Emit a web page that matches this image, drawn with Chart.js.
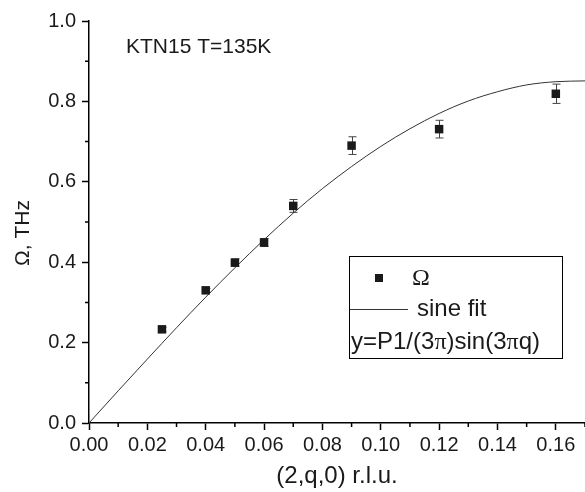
<!DOCTYPE html>
<html>
<head>
<meta charset="utf-8">
<script src="https://cdn.jsdelivr.net/npm/chart.js@4.4.0/dist/chart.umd.min.js"></script>
<style>
  html, body { margin: 0; padding: 0; background: #fff; }
  #wrap { width: 585px; height: 492px; }
</style>
</head>
<body>
<div id="wrap"><canvas id="grafico" width="585" height="492"></canvas></div>
<script>
// measured points (q in r.l.u., Omega in THz)
const qPontos = [0.025, 0.04, 0.05, 0.06, 0.07, 0.09, 0.12, 0.16];
const omegaPontos = [0.233, 0.330, 0.399, 0.449, 0.540, 0.690, 0.731, 0.819];
const erroPontos = [0.005, 0.005, 0.009, 0.010, 0.016, 0.022, 0.022, 0.024];

// sine fit curve
const qFit = [0, 0.01, 0.02, 0.03, 0.04, 0.05, 0.06, 0.07, 0.08, 0.09, 0.10, 0.11, 0.12, 0.13, 0.14, 0.15, 0.16, 0.17];
const omegaFit = [0, 0.080, 0.159, 0.237, 0.313, 0.386, 0.456, 0.522, 0.583, 0.638, 0.688, 0.732, 0.770, 0.801, 0.824, 0.841, 0.849, 0.851];

const xTicks = [0, 0.01, 0.02, 0.03, 0.04, 0.05, 0.06, 0.07, 0.08, 0.09, 0.10, 0.11, 0.12, 0.13, 0.14, 0.15, 0.16, 0.17];
const yTicks = [0, 0.1, 0.2, 0.3, 0.4, 0.5, 0.6, 0.7, 0.8, 0.9, 1.0];

const SANS = '"Liberation Sans", Arial, sans-serif';
const SERIF = '"Liberation Serif", "Times New Roman", serif';
const isMajorX = v => Math.round(v * 100) % 2 === 0;
const isMajorY = v => Math.round(v * 10) % 2 === 0;

const extras = {
  id: 'extras',
  beforeDatasetsDraw(chart) {
    const ctx = chart.ctx;
    const x = chart.scales.x, y = chart.scales.y;
    ctx.save();
    ctx.strokeStyle = '#444';
    ctx.lineWidth = 1;
    qPontos.forEach((q, i) => {
      const px = Math.round(x.getPixelForValue(q)) + 0.5;
      const top = y.getPixelForValue(omegaPontos[i] + erroPontos[i]);
      const bot = y.getPixelForValue(omegaPontos[i] - erroPontos[i]);
      ctx.beginPath();
      ctx.moveTo(px, top); ctx.lineTo(px, bot);
      ctx.moveTo(px - 4, top); ctx.lineTo(px + 4, top);
      ctx.moveTo(px - 4, bot); ctx.lineTo(px + 4, bot);
      ctx.stroke();
    });
    ctx.restore();
  },
  afterDraw(chart) {
    const ctx = chart.ctx;
    const x = chart.scales.x, y = chart.scales.y;
    const area = chart.chartArea;
    ctx.save();
    // minor ticks
    ctx.strokeStyle = '#000';
    ctx.lineWidth = 1.5;
    ctx.beginPath();
    xTicks.filter(v => !isMajorX(v)).forEach(v => {
      const px = x.getPixelForValue(v);
      ctx.moveTo(px, area.bottom); ctx.lineTo(px, area.bottom + 4);
    });
    yTicks.filter(v => !isMajorY(v)).forEach(v => {
      const py = y.getPixelForValue(v);
      ctx.moveTo(area.left, py); ctx.lineTo(area.left - 4, py);
    });
    ctx.stroke();

    ctx.fillStyle = '#1a1a1a';
    ctx.textBaseline = 'alphabetic';
    ctx.font = '21px ' + SANS;
    ctx.fillText('KTN15 T=135K', 126, 53);

    // y axis title
    ctx.save();
    ctx.translate(29, 233);
    ctx.rotate(-Math.PI / 2);
    ctx.textAlign = 'center';
    ctx.font = '21px ' + SANS;
    ctx.fillText('\u03A9, THz', 0, 0);
    ctx.restore();

    // legend box
    ctx.strokeStyle = '#000';
    ctx.lineWidth = 1;
    ctx.strokeRect(349.5, 256.5, 213, 102);
    ctx.fillRect(375, 274, 8, 8);
    ctx.font = '24px ' + SERIF;
    ctx.fillText('\u03A9', 412, 285);
    ctx.strokeStyle = '#333';
    ctx.beginPath();
    ctx.moveTo(350, 309.5); ctx.lineTo(408, 309.5);
    ctx.stroke();
    ctx.font = '24px ' + SANS;
    ctx.fillText('sine fit', 417, 316);

    const partes = [['y=P1/(3', SANS], ['\u03C0', SERIF], [')sin(3', SANS], ['\u03C0', SERIF], ['q)', SANS]];
    let cx = 351;
    partes.forEach(([t, f]) => {
      ctx.font = '24px ' + f;
      ctx.fillText(t, cx, 349);
      cx += ctx.measureText(t).width;
    });
    ctx.restore();
  }
};

new Chart(document.getElementById('grafico'), {
  type: 'scatter',
  data: {
    datasets: [
      {
        label: 'sine fit',
        data: qFit.map((q, i) => ({ x: q, y: omegaFit[i] })),
        showLine: true,
        borderColor: '#333',
        borderWidth: 1,
        pointRadius: 0,
        cubicInterpolationMode: 'monotone',
        order: 2
      },
      {
        label: '\u03A9',
        data: qPontos.map((q, i) => ({ x: q, y: omegaPontos[i] })),
        pointStyle: 'rect',
        pointRadius: 6,
        pointBorderWidth: 0,
        backgroundColor: '#1a1a1a',
        borderColor: '#1a1a1a',
        order: 1
      }
    ]
  },
  options: {
    responsive: false,
    animation: false,
    layout: { autoPadding: false, padding: { top: 21, right: 0, left: 0, bottom: 0 } },
    plugins: { legend: { display: false }, tooltip: { enabled: false } },
    scales: {
      x: {
        type: 'linear',
        min: 0,
        max: 0.17,
        afterBuildTicks: s => { s.ticks = xTicks.map(v => ({ value: v })); },
        afterFit: s => { s.height = 69; s.paddingRight = 0; s.paddingLeft = 0; },
        border: { display: true, color: '#000', width: 1.5 },
        grid: {
          display: true,
          drawOnChartArea: false,
          tickLength: 7,
          tickWidth: 1.5,
          tickColor: c => (c.tick && isMajorX(c.tick.value)) ? '#000' : 'rgba(0,0,0,0)'
        },
        ticks: {
          autoSkip: false,
          maxRotation: 0,
          padding: 3,
          color: '#1a1a1a',
          font: { family: SANS, size: 20 },
          callback: v => isMajorX(v) ? v.toFixed(2) : ''
        },
        title: {
          display: true,
          text: '(2,q,0) r.l.u.',
          color: '#1a1a1a',
          font: { family: SANS, size: 24 },
          padding: { top: 0, bottom: 1 }
        }
      },
      y: {
        type: 'linear',
        min: 0,
        max: 1.0,
        afterBuildTicks: s => { s.ticks = yTicks.map(v => ({ value: v })); },
        afterFit: s => { s.width = 89; },
        border: { display: true, color: '#000', width: 1.5 },
        grid: {
          display: true,
          drawOnChartArea: false,
          tickLength: 7,
          tickWidth: 1.5,
          tickColor: c => (c.tick && isMajorY(c.tick.value)) ? '#000' : 'rgba(0,0,0,0)'
        },
        ticks: {
          autoSkip: false,
          padding: 6,
          color: '#1a1a1a',
          font: { family: SANS, size: 20 },
          callback: v => isMajorY(v) ? v.toFixed(1) : ''
        },
        title: { display: false }
      }
    }
  },
  plugins: [extras]
});
</script>
</body>
</html>
